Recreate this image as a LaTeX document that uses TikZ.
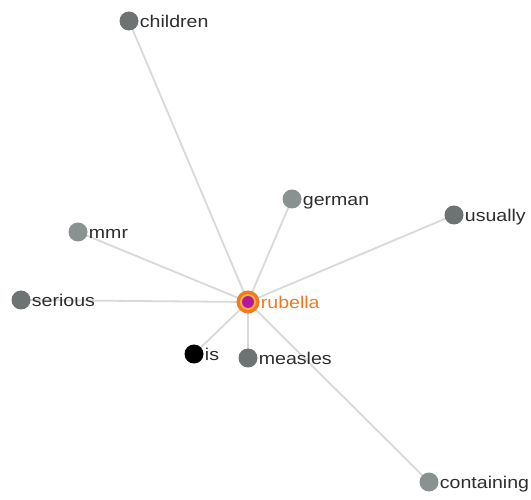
\documentclass[tikz,border=0pt]{standalone}
\usepackage{fontspec}
\setmainfont{Liberation Sans}
\begin{document}
\begin{tikzpicture}[x=1pt,y=-1pt,
  edge/.style={draw=edgegray,line width=1.8pt},
  dot/.style={circle,inner sep=0pt,minimum size=19pt,fill=#1},
  lbl/.style={anchor=mid west,inner sep=0pt,xscale=1.15,font=\fontsize{17}{17}\selectfont,text=labelgray},
]
\definecolor{edgegray}{HTML}{D9D9D9}
\definecolor{darkdot}{HTML}{6D7372}
\definecolor{lightdot}{HTML}{8A9291}
\definecolor{labelgray}{HTML}{2E2E2E}
\definecolor{ringorange}{HTML}{F07A22}
\definecolor{ringyellow}{HTML}{F7B03C}
\definecolor{coremagenta}{HTML}{B5179E}
\useasboundingbox (0,0) rectangle (531,500);
\fill[white] (0,0) rectangle (531,500);

% node positions
\coordinate (pRub) at (248,302);
\coordinate (pChi) at (129,21);
\coordinate (pGer) at (292,199);
\coordinate (pUsu) at (454,215);
\coordinate (pMmr) at (78,232);
\coordinate (pSer) at (21,300);
\coordinate (pIs)  at (194,354);
\coordinate (pMea) at (248,358);
\coordinate (pCon) at (429,482);

% connectors from the hub
\foreach \p in {pChi,pGer,pUsu,pMmr,pSer,pIs,pMea,pCon}
  \draw[edge] (pRub) -- (\p);

% leaf nodes
\node[dot=darkdot]  (children)   at (pChi) {};
\node[dot=lightdot] (german)     at (pGer) {};
\node[dot=darkdot]  (usually)    at (pUsu) {};
\node[dot=lightdot] (mmr)        at (pMmr) {};
\node[dot=darkdot]  (serious)    at (pSer) {};
\node[dot=black]    (is)         at (pIs)  {};
\node[dot=darkdot]  (measles)    at (pMea) {};
\node[dot=lightdot] (containing) at (pCon) {};

% hub node
\node[dot=ringorange,minimum size=23pt] (rubella) at (pRub) {};
\node[dot=ringyellow,minimum size=16pt] at (pRub) {};
\node[dot=coremagenta,minimum size=12pt] at (pRub) {};

% labels
\tikzset{lblat/.style={xshift=1pt,yshift=-4pt}}
\node[lbl] (tChi) at ([lblat]children.east) {children};
\node[lbl] (tGer) at ([lblat]german.east) {german};
\node[lbl] (tUsu) at ([lblat]usually.east) {usually};
\node[lbl] (tMmr) at ([lblat]mmr.east) {mmr};
\node[lbl] (tSer) at ([lblat]serious.east) {serious};
\node[lbl] (tIs)  at ([lblat]is.east) {is};
\node[lbl] (tMea) at ([lblat]measles.east) {measles};
\node[lbl] (tCon) at ([lblat]containing.east) {containing};
\node[lbl,text=ringorange] (tRub) at ([lblat]rubella.east) {rubella};
\end{tikzpicture}
\end{document}
